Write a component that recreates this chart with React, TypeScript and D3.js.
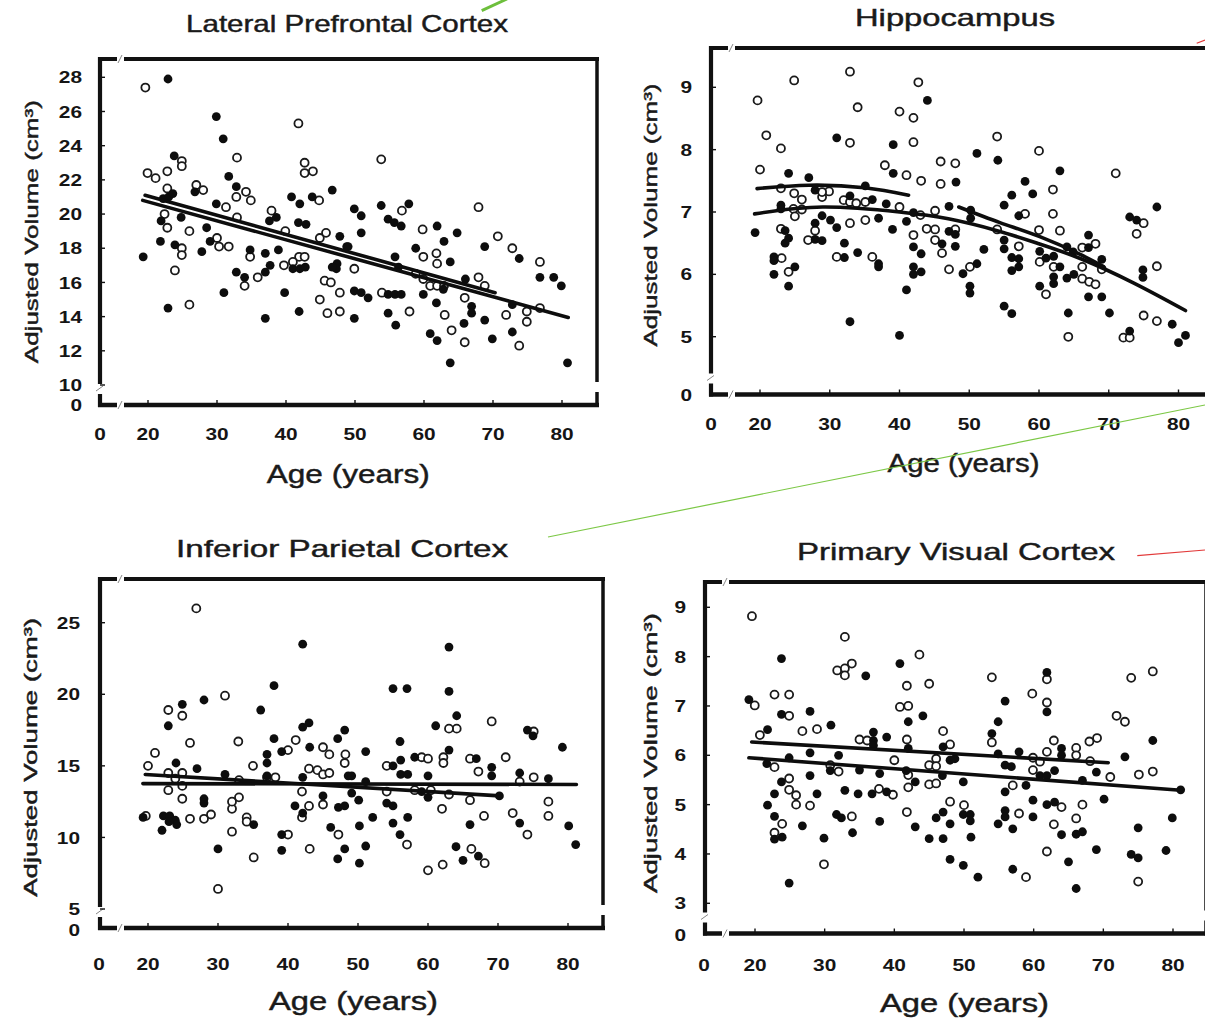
import { useEffect, useRef } from "react";
import * as d3 from "d3";

type Pt = [number, number];

const W = 1205;
const H = 1021;

const ageTicks = [0, 20, 30, 40, 50, 60, 70, 80];

// Lateral Prefrontal Cortex
const lpfcYTicks = [0, 10, 12, 14, 16, 18, 20, 22, 24, 26, 28];
const lpfcFilled: Pt[] = [
  [18.0, 17.5], [22.9, 27.9], [29.9, 25.7], [30.9, 24.4], [23.8, 23.4], [31.7, 22.2], [32.8, 21.6], [26.8, 21.3],
  [22.2, 20.9], [23.0, 21.0], [23.6, 21.2], [29.9, 20.6], [21.9, 19.6], [24.8, 19.8], [21.8, 18.4], [23.9, 18.2],
  [27.8, 17.8], [28.5, 19.2], [29.0, 18.4], [22.9, 14.5], [31.0, 15.4], [32.8, 16.6], [34.0, 16.3], [34.8, 17.9],
  [37.0, 17.7], [37.0, 13.9], [37.0, 16.6], [37.7, 17.0], [38.9, 17.9], [39.8, 15.4], [41.9, 14.3], [41.0, 16.8],
  [42.0, 16.8], [42.8, 16.9], [37.6, 19.6], [38.6, 19.8], [40.8, 21.0], [42.0, 20.6], [41.8, 19.5], [42.9, 19.4],
  [43.8, 21.0], [46.7, 21.4], [47.8, 18.7], [47.4, 17.1], [47.3, 16.8], [48.8, 18.1],
  [49.9, 20.3], [50.9, 19.9], [50.9, 18.9], [49.0, 18.1], [46.7, 16.9], [49.9, 15.5], [50.9, 15.4], [51.9, 15.1],
  [49.9, 13.9], [53.8, 20.5], [54.8, 19.7], [55.7, 19.5], [56.7, 19.3], [57.8, 20.6], [55.8, 17.5], [56.3, 16.9],
  [54.8, 15.3], [55.8, 15.3], [56.7, 15.3], [54.8, 14.2], [55.9, 13.5], [58.8, 18.0], [59.9, 15.3], [60.9, 13.0],
  [61.9, 12.6], [61.9, 19.3], [62.9, 18.4], [63.8, 17.2], [61.8, 14.8], [62.8, 15.6], [64.8, 18.9], [63.8, 11.3],
  [65.8, 13.6], [66.0, 16.2], [66.9, 14.6], [66.9, 14.2], [68.8, 18.1], [68.8, 13.8], [69.9, 12.7], [72.8, 13.1],
  [72.8, 14.7], [73.8, 17.4], [76.8, 16.3], [78.8, 16.3], [79.9, 15.8], [80.8, 11.3],
];
const lpfcOpen: Pt[] = [
  [18.9, 27.4], [19.8, 22.4], [21.1, 22.1], [22.8, 22.5], [24.9, 23.1], [24.9, 22.8], [22.8, 21.5], [22.4, 20.0],
  [22.8, 19.2], [26.0, 19.0], [24.9, 18.0], [24.9, 17.6], [23.9, 16.7], [26.0, 14.7], [27.0, 21.7], [28.0, 21.4],
  [31.3, 20.4], [32.8, 21.0], [32.9, 23.3], [34.2, 21.3], [34.9, 20.8], [32.9, 19.8], [30.0, 18.6], [30.3, 18.1],
  [31.7, 18.1], [34.8, 17.5], [35.9, 16.3], [34.0, 15.8], [37.9, 20.2], [39.9, 19.0], [41.9, 17.5], [42.7, 17.5],
  [39.7, 17.0], [41.0, 17.2], [41.8, 25.3], [42.7, 23.0], [42.7, 22.4], [43.9, 22.5], [44.8, 20.8], [44.9, 18.6],
  [45.8, 18.9], [45.6, 16.1], [46.5, 16.0], [47.8, 15.4], [44.9, 15.0], [46.0, 14.2], [47.8, 14.3],
  [53.8, 23.2], [56.8, 20.2], [59.8, 19.1], [67.9, 20.4], [70.7, 18.7], [72.8, 18.0], [76.8, 17.2], [61.8, 17.7],
  [59.9, 17.5], [61.9, 17.1], [58.8, 16.5], [59.9, 16.2], [60.9, 15.8], [61.9, 15.8], [62.9, 15.8], [49.9, 16.8],
  [53.9, 15.4], [57.9, 14.3], [63.0, 14.1], [64.0, 13.2], [65.9, 12.5], [67.9, 16.3], [68.8, 15.8], [65.9, 15.1],
  [71.9, 14.1], [73.8, 12.3], [74.9, 14.3], [74.9, 13.7], [76.8, 14.5],
];
const lpfcFits: Pt[][] = [
  [[17.8, 20.8], [80.9, 13.95]],
  [[18.8, 21.1], [70.3, 15.4]],
];

// Hippocampus
const hippoYTicks = [0, 5, 6, 7, 8, 9];
const hippoFilled: Pt[] = [
  [18.0, 6.67], [24.1, 7.62], [27.0, 7.55], [23.0, 7.11], [23.0, 7.05], [23.6, 6.7], [23.6, 6.5], [24.1, 6.58],
  [22.0, 6.28], [22.0, 6.22], [22.0, 6.0], [25.0, 6.12], [24.1, 5.81], [27.9, 7.35], [27.9, 6.82], [27.9, 6.56],
  [28.9, 6.54], [28.9, 6.94], [30.1, 6.87], [31.0, 8.19], [31.0, 6.75], [32.1, 6.5], [32.1, 6.27], [32.9, 7.26],
  [34.0, 6.35], [35.1, 7.42], [36.1, 7.2], [37.0, 6.9], [37.0, 6.12], [37.0, 6.17], [32.9, 5.24], [39.1, 8.08],
  [39.1, 7.62], [38.1, 7.13], [39.0, 6.72], [41.0, 6.85], [42.0, 6.99], [42.0, 6.44], [42.0, 6.12], [42.0, 6.0],
  [41.0, 5.75], [40.0, 5.02],
  [44.0, 8.79], [51.1, 7.94], [54.1, 7.83], [48.1, 7.48], [47.1, 7.09], [43.1, 6.33], [43.1, 6.04], [46.1, 6.49],
  [47.1, 6.69], [48.0, 6.64], [48.0, 6.45], [49.1, 6.01], [50.2, 7.03], [50.2, 6.9], [51.1, 6.17], [50.1, 5.81],
  [50.1, 5.7], [52.1, 6.4], [55.0, 6.55], [55.0, 6.41], [56.1, 7.27], [55.0, 7.11], [57.1, 6.94], [58.0, 7.49],
  [59.1, 7.29], [56.1, 6.27], [57.1, 6.25], [57.1, 6.12], [56.1, 6.06], [55.0, 5.49], [56.1, 5.37], [60.1, 6.37],
  [60.1, 5.81], [61.0, 6.26], [62.1, 6.29], [62.1, 5.96], [62.1, 5.85], [63.0, 7.66], [63.0, 6.12], [64.0, 5.94],
  [65.0, 6.0], [64.0, 6.44], [64.9, 6.36], [64.2, 5.38], [67.1, 6.63], [67.1, 6.43], [67.1, 5.64], [69.0, 6.24],
  [69.0, 5.64], [70.1, 5.38], [73.0, 6.92], [74.0, 6.87], [74.9, 6.07], [74.9, 5.95], [76.9, 7.08], [73.0, 5.09],
  [79.1, 5.2], [81.0, 5.02], [80.0, 4.49],
];
const hippoOpen: Pt[] = [
  [19.0, 8.79], [20.9, 8.23], [20.0, 7.68], [23.0, 8.02], [24.9, 9.11], [23.0, 7.38], [24.9, 7.3], [26.0, 7.2],
  [24.8, 7.05], [26.0, 7.04], [25.0, 6.93], [23.0, 6.73], [23.1, 6.26], [24.1, 6.04], [26.9, 6.55], [27.9, 6.7],
  [28.9, 7.24], [29.9, 7.33], [28.9, 7.32], [32.9, 9.25], [34.0, 8.68], [32.9, 8.11], [31.0, 6.28], [32.0, 7.19],
  [32.9, 7.16], [33.8, 7.14], [32.9, 6.82], [35.1, 6.87], [35.1, 7.16], [36.1, 6.28], [40.0, 8.61], [42.0, 8.51],
  [42.0, 8.12], [37.9, 7.75], [41.0, 7.59], [40.0, 7.08], [42.0, 6.63], [42.7, 9.08],
  [43.1, 7.5], [45.9, 7.81], [48.0, 7.78], [45.9, 7.45], [54.0, 8.21], [60.0, 7.98], [71.0, 7.62], [62.0, 7.36],
  [58.0, 6.97], [62.0, 6.97], [45.1, 7.02], [43.0, 6.95], [43.9, 6.73], [45.1, 6.72], [45.1, 6.55], [46.1, 6.34],
  [48.0, 6.72], [47.1, 6.08], [50.1, 6.12], [54.0, 6.72], [57.1, 6.45], [60.0, 6.71], [63.0, 6.7], [60.1, 6.2],
  [61.0, 5.68], [62.1, 6.12], [66.2, 6.43], [66.2, 6.12], [66.2, 5.93], [67.2, 5.88], [68.1, 5.84], [68.1, 6.49],
  [69.0, 6.08], [64.2, 4.99], [74.0, 6.65], [75.0, 6.82], [76.9, 6.13], [75.0, 5.34], [76.9, 5.25], [72.1, 4.92],
  [73.0, 4.92],
];
// points
const hippoFits: Pt[][] = [
  [[18.8, 7.375], [27.0, 7.43], [35.0, 7.39], [41.3, 7.27]],
  [[17.8, 6.97], [29.0, 7.08], [40.0, 7.0], [47.0, 6.89], [54.0, 6.7], [60.0, 6.49], [66.0, 6.25], [73.6, 5.86],
   [81.0, 5.42]],
  [[48.5, 7.08], [54.4, 6.83], [60.2, 6.6], [65.9, 6.32], [69.3, 6.12]],
];

// Inferior Parietal Cortex
const ipcYTicks = [0, 5, 10, 15, 20, 25];
const ipcFilled: Pt[] = [
  [18.0, 11.4], [22.0, 10.5], [22.2, 11.5], [23.1, 11.5], [23.9, 11.2], [24.1, 10.9], [23.0, 11.1], [22.9, 17.8],
  [24.9, 19.3], [28.0, 19.6], [24.0, 15.2], [27.0, 14.8], [28.0, 12.7], [28.0, 12.4], [30.0, 9.2], [31.0, 14.4],
  [35.1, 10.9], [36.1, 18.9], [38.0, 20.6], [37.0, 15.8], [37.0, 15.2], [37.0, 14.3], [38.0, 16.9], [39.1, 16.0],
  [39.1, 10.2], [39.1, 9.1], [42.1, 23.5], [42.1, 17.7], [43.0, 18.0], [43.1, 16.3], [41.0, 12.2], [42.1, 11.7],
  [42.1, 14.2], [45.0, 12.9], [46.1, 10.7], [48.1, 17.5], [47.1, 16.9], [47.2, 12.1], [48.1, 12.2], [47.1, 8.5],
  [48.1, 9.2], [48.6, 14.3],
  [63.0, 23.3], [63.0, 20.2], [55.0, 20.4], [57.0, 20.4], [64.1, 18.5], [61.1, 17.8], [63.0, 16.1], [51.1, 16.0],
  [56.0, 16.7], [56.1, 15.4], [55.0, 15.0], [58.1, 15.6], [56.1, 14.4], [57.1, 14.4], [60.0, 14.3], [49.1, 14.3],
  [51.1, 13.9], [66.9, 15.5], [69.1, 14.9], [69.1, 14.3], [74.2, 17.5], [75.0, 17.1], [73.1, 14.5], [77.2, 14.1],
  [79.2, 16.3], [49.1, 13.1], [50.1, 12.6], [54.1, 12.4], [55.0, 12.2], [59.1, 13.2], [60.0, 12.8], [52.1, 11.4],
  [50.2, 10.8], [55.0, 11.0], [57.1, 11.4], [56.0, 10.2], [51.1, 9.4], [50.2, 8.2], [64.0, 9.35], [65.0, 8.4],
  [67.2, 8.7], [66.0, 10.9], [70.2, 12.9], [73.1, 11.0], [80.1, 10.8], [81.1, 9.5],
];
const ipcOpen: Pt[] = [
  [19.1, 11.5], [20.0, 15.0], [21.0, 15.9], [22.9, 18.9], [24.9, 18.5], [26.0, 16.6], [26.9, 26.0], [22.9, 14.5],
  [23.9, 14.1], [22.9, 13.3], [24.9, 13.6], [24.9, 12.7], [24.9, 14.5], [26.0, 11.3], [28.0, 11.3], [29.0, 11.6],
  [30.0, 6.4], [31.0, 19.9], [32.0, 10.4], [32.0, 12.0], [32.0, 12.5], [33.0, 12.8], [32.9, 16.7], [34.1, 11.4],
  [34.1, 11.1], [35.0, 15.0], [33.0, 14.0], [35.1, 8.6], [37.0, 14.2], [38.2, 14.2], [40.0, 10.2], [40.0, 16.1],
  [41.1, 16.8], [42.0, 13.2], [42.0, 11.4], [43.0, 12.2], [43.1, 9.2], [43.0, 14.8], [44.2, 14.7], [45.0, 16.3],
  [45.9, 15.8], [45.0, 14.4], [45.9, 14.5], [45.0, 12.3], [47.2, 10.2], [48.2, 15.8], [48.1, 15.2],
  [69.1, 18.1], [75.1, 17.4], [64.1, 17.6], [63.0, 17.6], [54.1, 15.0], [59.1, 15.6], [60.0, 15.5], [62.2, 15.6],
  [62.2, 15.2], [66.0, 15.5], [67.2, 14.6], [71.1, 15.6], [73.1, 13.9], [75.1, 14.2], [54.1, 13.2], [58.1, 13.3],
  [60.4, 13.3], [63.0, 13.0], [66.0, 12.6], [62.0, 12.0], [68.0, 11.5], [72.1, 11.7], [77.2, 12.5], [77.2, 11.5],
  [74.2, 10.2], [57.0, 9.5], [60.0, 7.7], [62.1, 8.1], [66.2, 9.2], [68.1, 8.2],
];
const ipcFits: Pt[][] = [
  [[17.9, 13.76], [81.2, 13.7]],
  [[18.9, 14.4], [70.3, 12.9]],
];

// Primary Visual Cortex
const pvcYTicks = [0, 3, 4, 5, 6, 7, 8, 9];
const pvcFilled: Pt[] = [
  [17.6, 7.13], [23.8, 7.96], [23.8, 6.83], [21.8, 6.52], [21.7, 5.83], [24.9, 5.95], [22.8, 5.22], [21.8, 4.99],
  [22.8, 4.76], [23.8, 5.46], [23.9, 4.34], [22.8, 4.3], [24.9, 3.41], [27.9, 6.89], [27.9, 6.05], [27.9, 5.59],
  [28.9, 5.22], [26.8, 4.57], [29.9, 4.32], [30.9, 6.61], [32.0, 6.0], [30.8, 5.69], [31.7, 4.8], [32.4, 4.73],
  [34.0, 4.43], [32.9, 5.29], [34.8, 5.22], [35.9, 7.61], [37.0, 6.47], [37.0, 6.3], [37.0, 6.2], [35.0, 5.7],
  [37.9, 5.63], [38.9, 6.37], [36.8, 5.22], [37.9, 4.66], [38.9, 5.26], [40.8, 7.86], [42.0, 6.68], [42.0, 6.14],
  [41.7, 5.69], [43.0, 4.55], [43.0, 5.46],
  [44.1, 6.8], [47.0, 6.17], [48.0, 5.9], [48.7, 5.93], [45.0, 4.31], [46.0, 4.73], [47.0, 4.85], [48.0, 4.61],
  [47.0, 4.31], [46.9, 5.59], [49.9, 5.46], [49.9, 4.8], [50.9, 4.8], [50.9, 4.67], [51.0, 4.34], [48.0, 3.89],
  [49.9, 3.77], [52.0, 3.53], [54.0, 6.44], [54.9, 6.68], [55.9, 7.1], [54.9, 6.03], [55.9, 5.8], [56.8, 5.77],
  [57.9, 6.07], [55.9, 5.26], [54.9, 4.61], [55.9, 4.88], [55.9, 4.75], [57.0, 4.51], [57.0, 3.69], [58.9, 5.39],
  [59.9, 5.09], [59.9, 4.75], [61.9, 7.68], [61.9, 6.88], [60.9, 5.59], [61.9, 5.59], [63.0, 5.69], [61.9, 5.0],
  [63.0, 5.05], [64.0, 6.14], [64.0, 6.0], [64.0, 4.39], [65.0, 3.84], [66.1, 3.3], [66.1, 4.4], [67.0, 4.45],
  [67.0, 5.49], [69.0, 5.66], [70.1, 5.11], [69.0, 4.09], [73.1, 5.97], [74.0, 3.99], [75.0, 3.92], [75.0, 4.53],
  [77.1, 6.3], [79.9, 4.73], [79.0, 4.07], [81.1, 5.3],
];
const pvcOpen: Pt[] = [
  [18.8, 8.82], [19.9, 7.01], [20.7, 6.41], [22.8, 7.23], [24.9, 7.23], [24.9, 6.8], [22.8, 5.76], [24.9, 5.53],
  [24.9, 5.3], [25.9, 5.19], [25.9, 5.0], [27.9, 4.98], [23.9, 4.61], [22.8, 4.43], [26.8, 6.49], [28.9, 6.53],
  [29.9, 3.79], [30.8, 5.8], [32.0, 5.67], [31.8, 7.72], [32.9, 7.76], [33.9, 7.86], [32.9, 7.62], [32.9, 8.4],
  [35.0, 6.32], [36.1, 6.3], [33.9, 4.76], [37.8, 5.32], [39.8, 5.2], [40.0, 5.9], [41.8, 7.41], [40.8, 6.98],
  [42.0, 7.0], [41.8, 6.32], [41.8, 4.85], [42.0, 5.6], [42.0, 5.35], [43.6, 8.04],
  [45.0, 7.45], [47.0, 6.49], [48.0, 6.22], [46.0, 5.93], [45.0, 5.8], [46.0, 5.78], [45.0, 5.41], [46.0, 5.43],
  [48.0, 5.06], [50.0, 4.99], [54.0, 7.58], [54.0, 6.26], [57.9, 4.82], [57.0, 5.39], [58.9, 3.53], [59.8, 7.25],
  [61.9, 7.07], [61.9, 7.54], [62.9, 6.3], [61.9, 6.07], [60.9, 5.87], [59.9, 5.95], [59.9, 5.7], [64.0, 4.95],
  [62.9, 4.6], [61.9, 4.05], [66.1, 6.15], [66.1, 6.0], [68.0, 6.28], [69.1, 6.35], [67.0, 5.0], [66.1, 4.72],
  [68.1, 5.88], [71.0, 5.56], [71.9, 6.8], [73.1, 6.68], [74.0, 7.57], [77.1, 7.7], [75.1, 5.61], [77.1, 5.67],
  [75.0, 3.44],
];
const pvcFits: Pt[][] = [
  [[18.7, 6.27], [70.7, 5.85]],
  [[17.6, 5.95], [81.1, 5.29]],
];

const font = "'Liberation Sans', Arial, sans-serif";

// page layout of the four scanned panels
const panels = [
  {
    title: "Lateral Prefrontal Cortex", titleX: 347, titleY: 32, titleLen: 322,
    filled: lpfcFilled, open: lpfcOpen, fits: lpfcFits, curved: false, yTicks: lpfcYTicks,
    l: 100, t: 59, r: 597, b: 405,
    xRange: [100, 148, 562], yDomain: [0, 10, 28], yRange: [405, 385, 77.3],
    yLabX: 82, yTitleX: 37.5, yTitleY: 231.7, yTitleLen: 263,
    xLabY: 440, xTitleX: 348.3, xTitleY: 483, xTitleLen: 163,
  },
  {
    title: "Hippocampus", titleX: 955, titleY: 26, titleLen: 200,
    filled: hippoFilled, open: hippoOpen, fits: hippoFits, curved: true, yTicks: hippoYTicks,
    l: 711, t: 48, r: 1212, b: 394.5,
    xRange: [711, 760, 1178.5], yDomain: [0, 5, 9], yRange: [395, 336.7, 87.3],
    yLabX: 692, yTitleX: 656.5, yTitleY: 215, yTitleLen: 263,
    xLabY: 429.5, xTitleX: 963.6, xTitleY: 472, xTitleLen: 152,
  },
  {
    title: "Inferior Parietal Cortex", titleX: 342, titleY: 556.7, titleLen: 332,
    filled: ipcFilled, open: ipcOpen, fits: ipcFits, curved: false, yTicks: ipcYTicks,
    l: 100, t: 579, r: 603, b: 928,
    xRange: [99, 148, 568], yDomain: [0, 5, 25], yRange: [930, 909, 622.7],
    yLabX: 80, yTitleX: 37, yTitleY: 757.3, yTitleLen: 279,
    xLabY: 969.5, xTitleX: 353.5, xTitleY: 1010, xTitleLen: 169,
  },
  {
    title: "Primary Visual Cortex", titleX: 956, titleY: 560, titleLen: 318,
    filled: pvcFilled, open: pvcOpen, fits: pvcFits, curved: false, yTicks: pvcYTicks,
    l: 705, t: 582, r: 1206, b: 933.5,
    xRange: [704, 755, 1173], yDomain: [0, 3, 9], yRange: [935, 903.3, 607.3],
    yLabX: 686, yTitleX: 656.5, yTitleY: 753, yTitleLen: 280,
    xLabY: 971, xTitleX: 964.5, xTitleY: 1012, xTitleLen: 169,
  },
];

// coloured annotation strokes laid over the scan
const marks = [
  { x1: 481.7, y1: 10.7, x2: 507, y2: -1, color: "#6dbf3c", w: 3 },
  { x1: 548, y1: 537, x2: 1205, y2: 405, color: "#7cc846", w: 1.2 },
  { x1: 1196.7, y1: 43.3, x2: 1205, y2: 40, color: "#e23a3a", w: 1.2 },
  { x1: 1137.3, y1: 555.7, x2: 1205, y2: 550, color: "#e23a3a", w: 1.2 },
];

export default function App() {
  const ref = useRef<SVGSVGElement>(null);

  useEffect(() => {
    const svg = d3.select(ref.current);
    svg.selectAll("*").remove();
    svg.append("rect").attr("width", W).attr("height", H).attr("fill", "#fff");

    panels.forEach((p) => {
      const g = svg.append("g");
      const x = d3.scaleLinear().domain([0, 20, 80]).range(p.xRange);
      const y = d3.scaleLinear().domain(p.yDomain).range(p.yRange);

      // frame with axis breaks near the origin
      const gx0 = p.l + 17;
      const gx1 = p.l + 24;
      const gy0 = p.b - 21;
      const gy1 = p.b - 11;
      const seg = (x1: number, y1: number, x2: number, y2: number, w: number) =>
        g.append("line").attr("x1", x1).attr("y1", y1).attr("x2", x2).attr("y2", y2)
          .attr("stroke", "#111").attr("stroke-width", w);
      seg(p.l - 2, p.t, gx0, p.t, 4);
      seg(gx1, p.t, p.r + 2, p.t, 4);
      seg(p.l - 2, p.b, gx0, p.b, 4.5);
      seg(gx1, p.b, p.r + 2, p.b, 4.5);
      seg(p.l, p.t - 2, p.l, gy0, 4.2);
      seg(p.l, gy1, p.l, p.b + 2, 4.2);
      seg(p.r, p.t - 2, p.r, gy0 - 2, 3.5);
      seg(p.r, gy1 - 2, p.r, p.b + 2, 3.5);

      // faint break slashes
      [[gx0 + 2, p.t], [gx0 + 2, p.b]].forEach(([bx, by]) =>
        g.append("line").attr("x1", bx - 1).attr("y1", by + 4).attr("x2", bx + 3).attr("y2", by - 4)
          .attr("stroke", "#888").attr("stroke-width", 1));
      g.append("line").attr("x1", p.l - 4).attr("y1", gy1 - 3).attr("x2", p.l + 3).attr("y2", gy0 + 2)
        .attr("stroke", "#888").attr("stroke-width", 1);

      // small inside ticks
      ageTicks.filter((d) => d > 0).forEach((d) =>
        g.append("line").attr("x1", x(d)).attr("x2", x(d)).attr("y1", p.b).attr("y2", p.b - 5)
          .attr("stroke", "#111").attr("stroke-width", 1.4));
      p.yTicks.filter((d) => d > 0).forEach((d) =>
        g.append("line").attr("x1", p.l).attr("x2", p.l + 5).attr("y1", y(d)).attr("y2", y(d))
          .attr("stroke", "#111").attr("stroke-width", 1.4));

      // tick labels
      g.selectAll(".yl").data(p.yTicks).join("text")
        .attr("x", p.yLabX).attr("y", (d) => y(d)).attr("dy", "0.36em")
        .attr("text-anchor", "end")
        .attr("textLength", (d) => String(d).length * 11.6)
        .attr("lengthAdjust", "spacingAndGlyphs")
        .style("font-family", font).style("font-size", "17px").style("font-weight", "bold")
        .attr("fill", "#151515").text((d) => d);
      g.selectAll(".xl").data(ageTicks).join("text")
        .attr("x", (d) => x(d)).attr("y", p.xLabY)
        .attr("text-anchor", "middle")
        .attr("textLength", (d) => String(d).length * 11.6)
        .attr("lengthAdjust", "spacingAndGlyphs")
        .style("font-family", font).style("font-size", "17px").style("font-weight", "bold")
        .attr("fill", "#151515").text((d) => d);

      // points
      g.selectAll(".op").data(p.open).join("circle")
        .attr("cx", (d) => x(d[0])).attr("cy", (d) => y(d[1])).attr("r", 4)
        .attr("fill", "#fff").attr("stroke", "#1a1a1a").attr("stroke-width", 1.8);
      g.selectAll(".fp").data(p.filled).join("circle")
        .attr("cx", (d) => x(d[0])).attr("cy", (d) => y(d[1])).attr("r", 4.4)
        .attr("fill", "#0d0d0d");

      // fitted lines
      const line = d3.line<Pt>().x((d) => x(d[0])).y((d) => y(d[1]))
        .curve(p.curved ? d3.curveNatural : d3.curveLinear);
      p.fits.forEach((f) =>
        g.append("path").attr("d", line(f)).attr("fill", "none")
          .attr("stroke", "#0d0d0d").attr("stroke-width", 3.6).attr("stroke-linecap", "round"));

      // titles
      const heavy = (t: any) => t.attr("fill", "#1a1a1a").attr("stroke", "#1a1a1a").attr("stroke-width", 0.45);
      g.append("text").attr("x", p.titleX).attr("y", p.titleY).attr("text-anchor", "middle")
        .attr("textLength", p.titleLen).attr("lengthAdjust", "spacingAndGlyphs")
        .style("font-family", font).style("font-size", "24px")
        .call(heavy)
        .text(p.title);
      g.append("text").attr("x", p.xTitleX).attr("y", p.xTitleY).attr("text-anchor", "middle")
        .attr("textLength", p.xTitleLen).attr("lengthAdjust", "spacingAndGlyphs")
        .style("font-family", font).style("font-size", "26px")
        .call(heavy)
        .text("Age (years)");
      g.append("text")
        .attr("transform", `translate(${p.yTitleX},${p.yTitleY}) rotate(-90)`)
        .attr("text-anchor", "middle")
        .attr("textLength", p.yTitleLen).attr("lengthAdjust", "spacingAndGlyphs")
        .style("font-family", font).style("font-size", "19px")
        .call(heavy)
        .text("Adjusted Volume (cm³)");
    });

    marks.forEach((m) =>
      svg.append("line").attr("x1", m.x1).attr("y1", m.y1).attr("x2", m.x2).attr("y2", m.y2)
        .attr("stroke", m.color).attr("stroke-width", m.w));
  }, []);

  return (
    <svg
      ref={ref}
      width={W}
      height={H}
      style={{ position: "absolute", left: 0, top: 0 }}
      role="img"
      aria-label="Adjusted regional brain volume by age, four scatter panels"
    />
  );
}
